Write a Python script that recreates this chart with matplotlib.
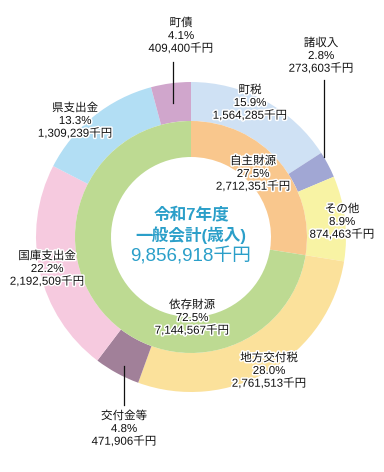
import matplotlib
matplotlib.use("Agg")
import matplotlib.pyplot as plt
import matplotlib.patheffects as pe

plt.rcParams['font.family'] = ['Liberation Sans', 'Noto Sans CJK JP', 'DejaVu Sans']

# data
outer_names = ["町税", "諸収入", "その他", "地方交付税", "交付金等", "国庫支出金", "県支出金", "町債"]
outer_values = [1564285, 273603, 874463, 2761513, 471906, 2192509, 1309239, 409400]
outer_pcts = ["15.9%", "2.8%", "8.9%", "28.0%", "4.8%", "22.2%", "13.3%", "4.1%"]
outer_colors = ["#cfe1f4", "#a1a7d4", "#f8f3a4", "#fbe19b", "#a18099", "#f6cadf", "#b2def4", "#d0a6cc"]

inner_names = ["自主財源", "依存財源"]
inner_values = [2712351, 7144567]
inner_pcts = ["27.5%", "72.5%"]
inner_colors = ["#f9c78d", "#bdda92"]

total_label = "9,856,918千円"
title_lines = ["令和7年度", "一般会計(歳入)"]

W, H = 384, 472
fig = plt.figure(figsize=(W / 100, H / 100), dpi=100)
ax = fig.add_axes([0, 0, 1, 1])
ax.set_xlim(0, W)
ax.set_ylim(0, H)
ax.set_aspect('equal')
ax.axis('off')

cx, cy = 191, H - 237
R_out, R_mid, R_in = 155, 116, 80

ax.pie(outer_values, colors=outer_colors, startangle=90, counterclock=False,
       radius=R_out, center=(cx, cy), wedgeprops=dict(width=R_out - R_mid, linewidth=0))
ax.pie(inner_values, colors=inner_colors, startangle=90, counterclock=False,
       radius=R_mid, center=(cx, cy), wedgeprops=dict(width=R_mid - R_in, linewidth=0))
ax.set_xlim(0, W)
ax.set_ylim(0, H)

stroke = [pe.withStroke(linewidth=2.2, foreground='white')]

def fmt(v):
    return f"{v:,}千円"

# label positions (pixel, top-origin)
outer_pos = [(250, 103), (321, 56), (342, 222), (269, 371), (124, 429), (47, 269), (75, 121), (181, 36)]
inner_pos = [(253, 174), (192, 318)]

def put(x, y, name, pct, val):
    ax.text(x, H - y, f"{name}\n{pct}\n{fmt(val)}", ha='center', va='center',
            fontsize=8.3, color='#111111', linespacing=1.08, path_effects=stroke, zorder=5)

for (x, y), n, p, v in zip(outer_pos, outer_names, outer_pcts, outer_values):
    put(x, y, n, p, v)
for (x, y), n, p, v in zip(inner_pos, inner_names, inner_pcts, inner_values):
    put(x, y, n, p, v)

# leader lines
for (x, y0, y1) in [(173, 62, 103), (324, 80, 157), (124, 366, 405)]:
    ax.plot([x, x], [H - y0, H - y1], color='#111111', lw=0.9, zorder=6)

blue = '#2b9fc9'
ax.text(cx, H - 214, title_lines[0], ha='center', va='center', fontsize=12, color=blue, fontweight='bold')
ax.text(cx, H - 235, title_lines[1], ha='center', va='center', fontsize=12, color=blue, fontweight='bold')
ax.text(cx, H - 256, total_label, ha='center', va='center', fontsize=13.5, color=blue)

fig.savefig("out.png", dpi=100)
